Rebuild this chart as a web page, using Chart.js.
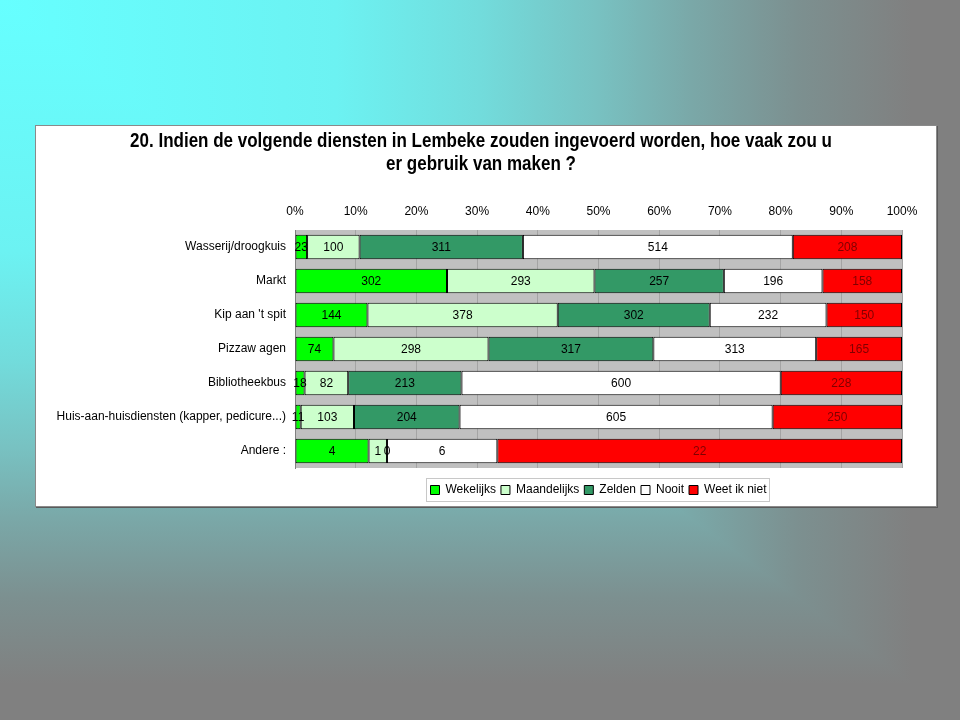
<!DOCTYPE html>
<html>
<head>
<meta charset="utf-8">
<script src="https://cdn.jsdelivr.net/npm/chart.js@4"></script>
<style>
html,body{margin:0;padding:0;width:960px;height:720px;overflow:hidden;background:#808080;}
.bg{position:absolute;left:0;top:0;width:960px;height:720px;}
#bgB{background:linear-gradient(to bottom,#66ffff 0%,#6cf2f2 35%,#72dcdc 50%,#78c2c2 62%,#7aa8a8 72%,#7c9090 83%,#808080 95%);}
#bgA{background:linear-gradient(to right,#66ffff 0%,#6cf2f2 35%,#72dcdc 50%,#78c2c2 62%,#7aa8a8 72%,#7c9090 83%,#808080 95%);clip-path:polygon(0 0,960px 0,960px 720px);}
#panel{position:absolute;left:35px;top:125px;width:900px;height:380px;background:#fff;border:1px solid #8a8a8a;box-shadow:1px 1px 0 #5a5a5a;}
#wrap{position:absolute;left:0;top:0;width:900px;height:380px;}
#title{position:absolute;left:0;top:3px;width:890px;text-align:center;font:bold 20px 'Liberation Sans',Arial,sans-serif;line-height:23px;color:#000;transform:scaleX(0.85);transform-origin:445px 0;white-space:nowrap;}
</style>
</head>
<body>
<div class="bg" id="bgB"></div>
<div class="bg" id="bgA"></div>
<div id="panel">
  <div id="wrap"><canvas id="c" width="900" height="380"></canvas></div>
  <div id="title"></div>
</div>
<script>
const titleLines = ["20. Indien de volgende diensten in Lembeke zouden ingevoerd worden, hoe vaak zou u", "er gebruik van maken ?"];
const categories = ["Wasserij/droogkuis", "Markt", "Kip aan 't spit", "Pizzaw agen", "Bibliotheekbus", "Huis-aan-huisdiensten (kapper, pedicure...)", "Andere :"];
const seriesNames = ["Wekelijks", "Maandelijks", "Zelden", "Nooit", "Weet ik niet"];
const wekelijks   = [23, 302, 144, 74, 18, 11, 4];
const maandelijks = [100, 293, 378, 298, 82, 103, 1];
const zelden      = [311, 257, 302, 317, 213, 204, 0];
const nooit       = [514, 196, 232, 313, 600, 605, 6];
const weetIkNiet  = [208, 158, 150, 165, 228, 250, 22];
const tickLabels  = ["0%", "10%", "20%", "30%", "40%", "50%", "60%", "70%", "80%", "90%", "100%"];

const titleEl = document.getElementById('title');
titleLines.forEach((t, i) => {
  if (i) titleEl.appendChild(document.createElement('br'));
  titleEl.appendChild(document.createTextNode(t));
});

const counts = [wekelijks, maandelijks, zelden, nooit, weetIkNiet];
const colors = ['#00ff00', '#ccffcc', '#339966', '#ffffff', '#ff0000'];
const labelColors = ['#000000', '#000000', '#000000', '#000000', '#800000'];
const totals = categories.map((_, i) => counts.reduce((s, a) => s + a[i], 0));

const FONT = "'Liberation Sans', Arial, sans-serif";

const datasets = counts.map((arr, k) => ({
  label: seriesNames[k],
  data: arr.map((v, i) => v / totals[i] * 100),
  counts: arr,
  backgroundColor: colors[k],
  borderColor: '#000000',
  borderWidth: 1,
  borderSkipped: false,
  barPercentage: 0.72,
  categoryPercentage: 1
}));

const plotBg = {
  id: 'plotBg',
  beforeDraw(chart) {
    const {ctx, chartArea: a} = chart;
    ctx.save();
    ctx.fillStyle = '#c0c0c0';
    ctx.fillRect(a.left, a.top, a.right - a.left, a.bottom - a.top);
    ctx.restore();
  }
};

const valueLabels = {
  id: 'valueLabels',
  afterDatasetsDraw(chart) {
    const ctx = chart.ctx;
    ctx.save();
    ctx.font = '12px ' + FONT;
    ctx.textAlign = 'center';
    ctx.textBaseline = 'middle';
    chart.data.datasets.forEach((ds, k) => {
      const meta = chart.getDatasetMeta(k);
      meta.data.forEach((el, i) => {
        const p = el.getProps(['x', 'y', 'base'], true);
        ctx.fillStyle = labelColors[k];
        ctx.fillText(String(ds.counts[i]), (p.x + p.base) / 2, p.y + 0.5);
      });
    });
    ctx.restore();
  }
};

const legendBox = {
  id: 'legendBox',
  afterDraw(chart) {
    const hb = chart.legend && chart.legend.legendHitBoxes;
    if (!hb || !hb.length) return;
    const first = hb[0], last = hb[hb.length - 1];
    const ctx = chart.ctx;
    const l = Math.round(first.left - 5) + 0.5;
    const r = Math.round(last.left + last.width + 3) + 0.5;
    const t = Math.round(first.top - 6) + 0.5;
    const b = Math.round(first.top + first.height + 5) + 0.5;
    ctx.save();
    ctx.strokeStyle = '#c8c8c8';
    ctx.lineWidth = 1;
    ctx.strokeRect(l, t, r - l, b - t);
    ctx.restore();
  }
};

new Chart(document.getElementById('c'), {
  type: 'bar',
  data: { labels: categories, datasets },
  plugins: [plotBg, valueLabels, legendBox],
  options: {
    indexAxis: 'y',
    responsive: false,
    animation: false,
    events: [],
    layout: { padding: { left: 0, right: 0, top: 49, bottom: 0 } },
    scales: {
      x: {
        position: 'top',
        stacked: true,
        min: 0, max: 100,
        ticks: {
          stepSize: 10,
          autoSkip: false,
          maxRotation: 0,
          padding: 11,
          color: '#000000',
          font: { family: FONT, size: 12 },
          callback: (v, i) => tickLabels[i]
        },
        grid: { color: '#a4a4a4', drawTicks: false, lineWidth: 1 },
        border: { display: false },
        afterFit: s => { s.height = 55; }
      },
      x2: {
        type: 'linear',
        position: 'bottom',
        display: true,
        ticks: { display: false },
        grid: { display: false },
        border: { display: false },
        afterFit: s => { s.height = 11; }
      },
      y: {
        stacked: true,
        position: 'left',
        ticks: {
          padding: 9,
          color: '#000000',
          font: { family: FONT, size: 12 },
          autoSkip: false
        },
        grid: { display: false, drawTicks: false },
        border: { display: true, color: '#808080', width: 1 },
        afterFit: s => { s.width = 259; }
      },
      y2: {
        type: 'linear',
        position: 'right',
        display: true,
        ticks: { display: false },
        grid: { display: false },
        border: { display: false },
        afterFit: s => { s.width = 34; }
      }
    },
    plugins: {
      title: { display: false },
      legend: {
        position: 'bottom',
        fullSize: false,
        labels: {
          boxWidth: 9,
          boxHeight: 9,
          padding: 5,
          color: '#000000',
          font: { family: FONT, size: 12 }
        }
      },
      tooltip: { enabled: false }
    }
  }
});
</script>
</body>
</html>
